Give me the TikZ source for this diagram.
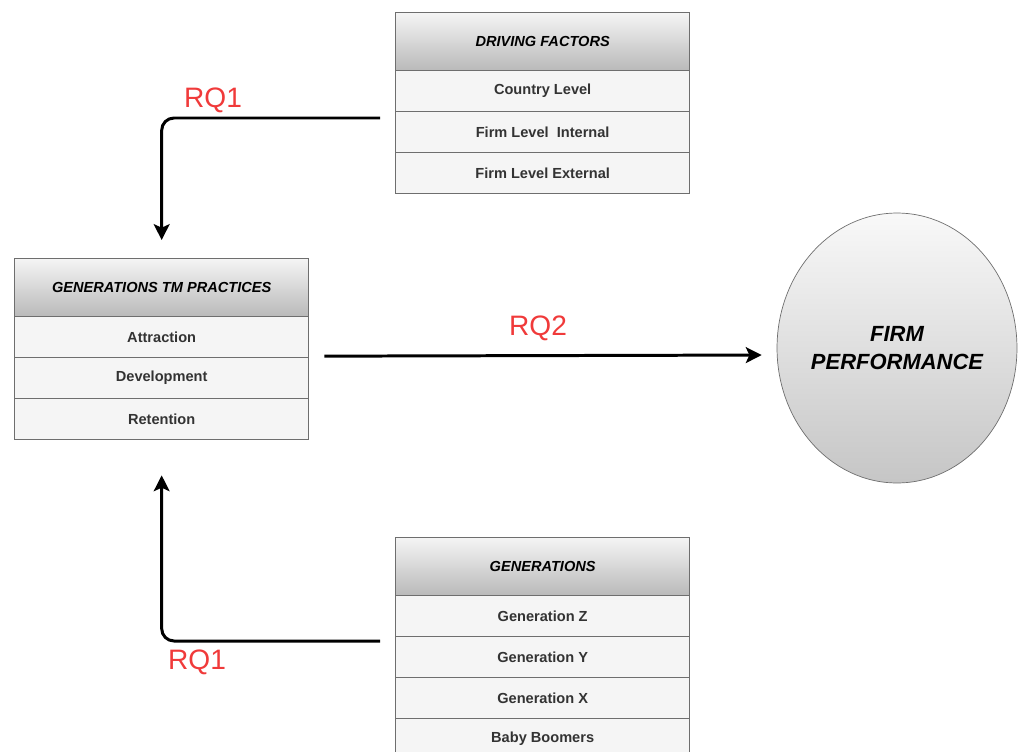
\documentclass[tikz,border=0pt]{standalone}
\usepackage{fontspec}
\setmainfont{Liberation Sans}
\usepackage{xcolor}
\definecolor{myr}{RGB}{240, 58, 58}
\definecolor{myg}{RGB}{110, 110, 110}
\definecolor{mycell}{RGB}{245, 245, 245}
\usetikzlibrary{arrows.meta,positioning,matrix,shapes.geometric}
\tikzset{
	rqlabel/.style={
			text=myr,
			font=\fontsize{16}{18}\selectfont
		},
	rqarrow/.style={
			line width=1.7pt,
			-{Stealth[length=9pt,width=9pt,inset=2pt]}
		}
}

\begin{document}
\begin{tikzpicture}[x=0.02cm,y=-0.02cm]
			\tikzset{every matrix/.style={
				inner sep=0pt,
				matrix of nodes,
				row sep=-\pgflinewidth,
				anchor=north west,
				nodes={
					draw=myg,
					fill=mycell,
					text=black!80,
					font=\bfseries\fontsize{8.3}{10}\selectfont,
					minimum width=5.88cm,
					minimum height=0.82cm,
					anchor=center
				},
				row 1/.style={nodes={
					top color=gray!8,
					bottom color=gray!55,
					text=black,
					font=\bfseries\itshape\fontsize{8.3}{10}\selectfont,
					minimum height=1.16cm
				}}
			}}
			\useasboundingbox (0,0) rectangle (1018,751);
			\matrix (df) at (395,12) {DRIVING FACTORS\\ Country Level\\ Firm Level\ \ Internal\\ Firm Level External\\};
			\matrix (tm) at (14,258) {GENERATIONS TM PRACTICES\\ Attraction\\ Development\\ Retention\\};
			\matrix (gen) at (395,537) {GENERATIONS\\ Generation Z\\ Generation Y\\ Generation X\\ Baby Boomers\\};
			\node[ellipse, draw=myg, top color=gray!5, bottom color=gray!45,
				inner sep=0pt, minimum width=4.8cm, minimum height=5.4cm] (fp) at (897,348) {};
			\node[align=center, font=\bfseries\itshape\fontsize{12.5}{16.4}\selectfont] (fptext) at (fp.center) {FIRM\\PERFORMANCE};
			\coordinate (s1) at (380,118);
			\coordinate (s2) at (380,641);
			\draw[rqarrow, rounded corners=7pt, shorten >=0.36cm] (s1) -| (tm.north);
			\draw[rqarrow, rounded corners=7pt, shorten >=0.7cm] (s2) -| (tm.south);
			\draw[rqarrow, shorten <=0.3cm, shorten >=0.3cm] ([yshift=-0.14cm]tm.east) -- ([yshift=-0.14cm]fp.west);
			\node[rqlabel] (rq1a) at (213,100) {RQ1};
			\node[rqlabel] (rq2) at (538,328) {RQ2};
			\node[rqlabel] (rq1b) at (197,662) {RQ1};
		\end{tikzpicture}
\end{document}
